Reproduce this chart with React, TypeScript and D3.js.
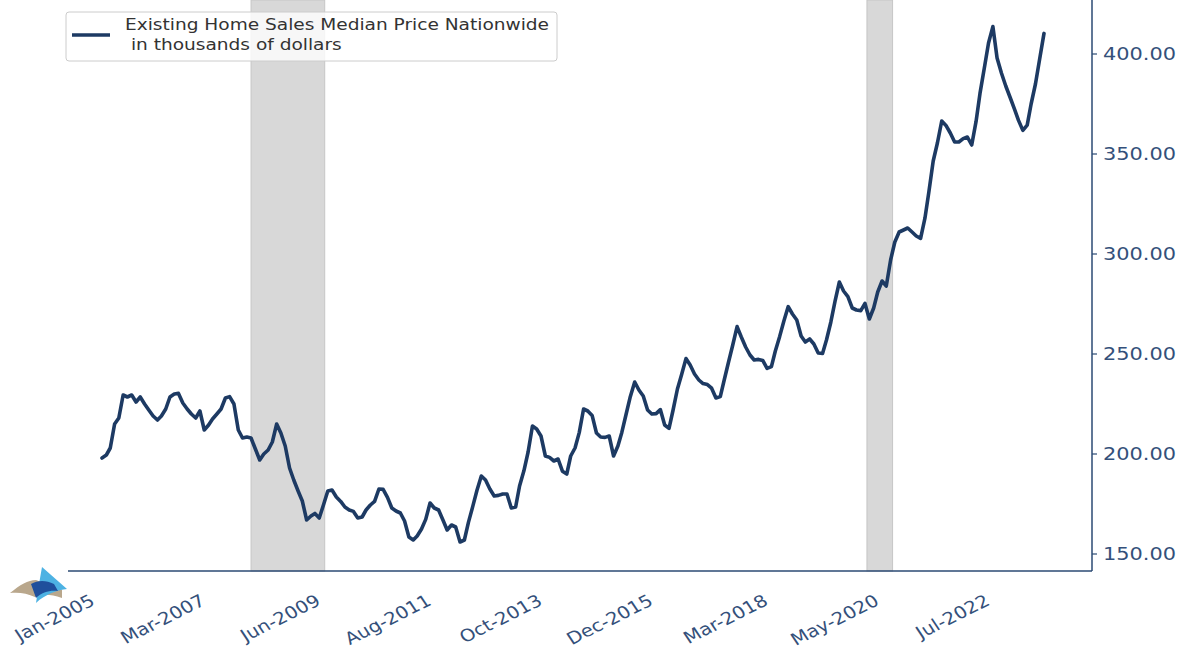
import React from "react";
import * as d3 from "d3";

const START_YEAR = 2005;
const prices: number[] = [
  // 2005
  198, 199.5, 203, 215, 218, 229.5, 228.5, 229.5, 226, 228.5, 225, 222,
  // 2006
  219, 217, 219, 222.5, 228.5, 230, 230.3, 225.5, 222.5, 220, 218, 221.5,
  // 2007
  212, 214.5, 217.5, 220, 222.5, 228, 228.7, 225, 212, 208, 208.5, 208,
  // 2008
  202.5, 197, 200, 202, 206, 215, 210.5, 204, 193, 187, 181.5, 176.5,
  // 2009
  167, 169, 170.3, 168, 174.5, 181.5, 182, 178.5, 176.3, 173.5, 172, 171.3,
  // 2010
  168, 168.5, 172, 174.5, 176.3, 182.5, 182.3, 178.3, 173, 171.5, 170.5, 166.5,
  // 2011
  158.5, 157, 159, 162.5, 167.3, 175.5, 173, 172, 167, 162, 164.5, 163.5,
  // 2012
  156, 157, 165.8, 173.8, 181.9, 189, 187, 182.5, 179, 179.3, 180, 180,
  // 2013
  173, 173.5, 184, 191.6, 201, 214, 212.5, 209, 199, 198.3, 196.5, 197.5,
  // 2014
  191.4, 190, 199, 203, 210.7, 222.5, 221.5, 219.3, 210.5, 208.5, 208.3, 209,
  // 2015
  199, 204, 210.8, 220, 228.8, 236, 232, 229, 222, 220, 220.2, 222.2,
  // 2016
  214.5, 212.8, 222, 232.5, 239.7, 247.7, 244.5, 240, 237, 235.2, 234.7, 232.9,
  // 2017
  228, 228.7, 237, 246, 254.5, 263.7, 258.5, 253.5, 249.5, 247, 247.3, 246.8,
  // 2018
  242.8, 243.7, 251.5, 258.8, 266.5, 273.7, 270, 267, 259, 256, 257.5, 255,
  // 2019
  250.5, 250.3, 257, 265.9, 276.3, 286, 281.5, 278.7, 273, 272, 271.7, 275.3,
  // 2020
  267.5, 273, 281, 286.5, 284, 297, 306, 311, 312, 313, 311, 309,
  // 2021
  307.8, 317.9, 331, 346.5, 355.5, 366.5, 364.3, 360.5, 356, 356, 357.7, 358.5,
  // 2022
  354.5, 366.3, 380.3, 393, 405.5, 413.7, 398, 390.5, 384, 378.5, 372.7, 366.8,
  // 2023
  361.8, 364.4, 375, 385, 397.5, 410.3,
];

const recessions: [string, string][] = [
  ["2007-12-01", "2009-05-10"],
  ["2019-12-15", "2020-06-15"],
];

const xTickLabels = ["Jan-2005", "Mar-2007", "Jun-2009", "Aug-2011", "Oct-2013", "Dec-2015", "Mar-2018", "May-2020", "Jul-2022"];
const yTicks = [150, 200, 250, 300, 350, 400];
const legendLines = ["Existing Home Sales Median Price Nationwide", " in thousands of dollars"];

const W = 1190;
const H = 660;
const LINE_COLOR = "#1d3a63";
const AXIS_COLOR = "#2b4a73";
const TEXT_COLOR = "#34507a";
const FONT = "DejaVu Sans, sans-serif";
const SX = 1.16;

const monthFmt = d3.timeParse("%b-%Y");

export default function App() {
  const data = prices.map((v, i) => ({ date: new Date(START_YEAR, i, 1), value: v }));
  const x = d3
    .scaleTime()
    .domain([new Date(2005, 0, 1), new Date(2023, 5, 1)])
    .range([102, 1044]);
  const plotLeft = 68;
  const plotRight = 1092;
  const plotTop = 0;
  const plotBottom = 571;
  const y = d3.scaleLinear().domain([141.5, 427]).range([plotBottom, plotTop]);

  const line = d3
    .line<{ date: Date; value: number }>()
    .x((d) => x(d.date))
    .y((d) => y(d.value));

  const fmt = d3.format(".2f");

  return (
    <svg
      width={W}
      height={H}
      viewBox={`0 0 ${W} ${H}`}
      style={{ position: "absolute", left: 0, top: 0, background: "#fff" }}
      fontFamily={FONT}
    >
      {recessions.map(([a, b], i) => {
        const x0 = x(new Date(a));
        const x1 = x(new Date(b));
        return (
          <rect
            key={i}
            x={x0}
            y={plotTop}
            width={x1 - x0}
            height={plotBottom - plotTop}
            fill="#d8d8d8"
            stroke="#c6c6c6"
            strokeWidth={1}
          />
        );
      })}

      <path d={line(data) || ""} fill="none" stroke={LINE_COLOR} strokeWidth={3.6} strokeLinejoin="round" strokeLinecap="round" />

      {/* axes */}
      <line x1={plotLeft} x2={plotRight} y1={plotBottom} y2={plotBottom} stroke={AXIS_COLOR} strokeWidth={1.5} />
      <line x1={plotRight} x2={plotRight} y1={plotTop} y2={plotBottom} stroke={AXIS_COLOR} strokeWidth={1.5} />

      {yTicks.map((t) => (
        <g key={t} transform={`translate(${plotRight},${y(t)})`}>
          <line x1={0} x2={5} stroke={AXIS_COLOR} strokeWidth={1.2} />
          <text transform={`translate(11,0) scale(${SX},1)`} dy="0.36em" fontSize={18} fill={TEXT_COLOR}>
            {fmt(t)}
          </text>
        </g>
      ))}

      {xTickLabels.map((lab) => {
        const d = monthFmt(lab) as Date;
        const px = x(d) - 6;
        return (
          <text
            key={lab}
            transform={`translate(${px},604) scale(${SX},1) rotate(-30)`}
            textAnchor="end"
            fontSize={17}
            fill={TEXT_COLOR}
          >
            {lab}
          </text>
        );
      })}

      {/* legend */}
      <g>
        <rect x={66} y={12} width={491} height={49} rx={3} fill="#ffffff" fillOpacity={0.8} stroke="#cccccc" strokeWidth={1} />
        <line x1={72} x2={110} y1={35} y2={35} stroke={LINE_COLOR} strokeWidth={3.6} />
        {legendLines.map((t, i) => (
          <text
            key={i}
            transform={`translate(125,${30 + i * 20}) scale(${SX},1)`}
            fontSize={16}
            fill="#333333"
            style={{ whiteSpace: "pre" }}
          >
            {t}
          </text>
        ))}
      </g>

      {/* logo */}
      <g>
        <path d="M10,593 C20,585 28,580 36,580 L62,590 L62,598 C50,594 42,594 35,597 C27,593 18,592 10,593 Z" fill="#b9a78c" />
        <path d="M42,567 L67,589 C58,590 45,594 36,603 C38,590 40,578 42,567 Z" fill="#4db2e3" />
        <path d="M31,584 C38,580 46,580 54,584 L58,591 C50,590 42,592 36,598 Z" fill="#1f4f9c" />
      </g>
    </svg>
  );
}
